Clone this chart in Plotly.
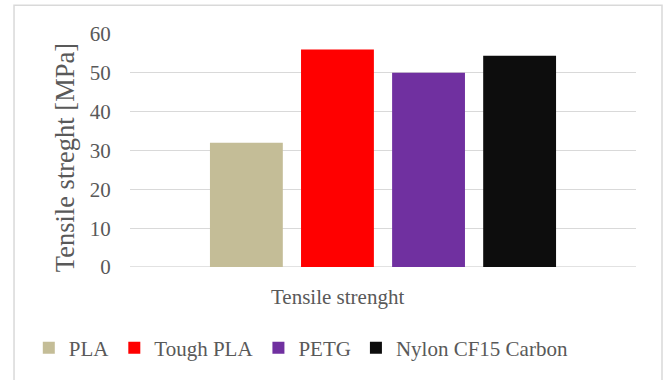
import plotly.graph_objects as go

# Tensile strength of 3D-printing filaments
category = ["Tensile strenght"]
materials = ["PLA", "Tough PLA", "PETG", "Nylon CF15 Carbon"]
strength_mpa = [32, 56, 50, 54.4]
colors = ["#c4bd97", "#ff0000", "#7030a0", "#0d0d0d"]

y_title = "Tensile streght [MPa]"
y_ticks = [0, 10, 20, 30, 40, 50, 60]

FONT = "Liberation Serif, Times New Roman, serif"
TEXT_COLOR = "#595959"
GRID_COLOR = "#d9d9d9"

fig = go.Figure()
for name, val, col in zip(materials, strength_mpa, colors):
    fig.add_trace(go.Bar(x=category, y=[val], name=name, marker=dict(color=col, line=dict(width=0))))

fig.update_layout(
    width=665,
    height=380,
    margin=dict(l=130, r=29, t=34, b=113, autoexpand=False),
    paper_bgcolor="white",
    plot_bgcolor="white",
    barmode="group",
    bargap=0.28,
    bargroupgap=0.2,
    font=dict(family=FONT, size=21, color=TEXT_COLOR),
    showlegend=True,
    legend=dict(
        orientation="h",
        x=-0.2,
        xanchor="left",
        y=-0.348,
        yanchor="middle",
        font=dict(family=FONT, size=21, color=TEXT_COLOR),
        traceorder="normal",
    ),
    xaxis=dict(showticklabels=False, showgrid=False, zeroline=False, showline=False, ticks=""),
    yaxis=dict(
        range=[0, 60],
        tickvals=y_ticks,
        showgrid=True,
        gridcolor=GRID_COLOR,
        gridwidth=1,
        zeroline=False,
        showline=False,
        ticks="outside",
        ticklen=14,
        tickcolor="rgba(0,0,0,0)",
        tickfont=dict(family=FONT, size=21, color=TEXT_COLOR),
    ),
    annotations=[
        # category label under the bars
        dict(
            text=category[0],
            xref="paper",
            yref="paper",
            x=0.411,
            y=-0.127,
            xanchor="center",
            yanchor="middle",
            showarrow=False,
            font=dict(family=FONT, size=21, color=TEXT_COLOR),
        ),
        # value axis title
        dict(
            text=y_title,
            textangle=-90,
            xref="paper",
            yref="paper",
            x=-0.128,
            y=0.468,
            xanchor="center",
            yanchor="middle",
            showarrow=False,
            font=dict(family=FONT, size=26.5, color=TEXT_COLOR),
        ),
    ],
    shapes=[
        # chart frame
        dict(
            type="rect",
            xref="paper",
            yref="paper",
            x0=-0.2292,
            x1=1.0514,
            y0=-0.52,
            y1=1.1238,
            line=dict(color=GRID_COLOR, width=1.5),
            fillcolor="rgba(0,0,0,0)",
            layer="below",
        ),
        # baseline at zero
        dict(
            type="line",
            xref="paper",
            yref="y",
            x0=0,
            x1=1,
            y0=0,
            y1=0,
            line=dict(color=GRID_COLOR, width=1.5),
            layer="below",
        ),
    ],
)

fig.write_html("out.html")
